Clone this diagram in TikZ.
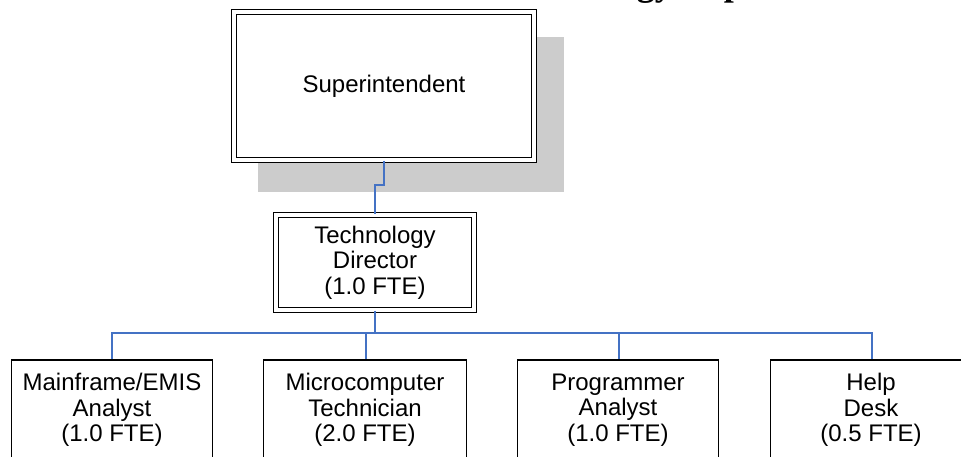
\documentclass[tikz,border=0pt]{standalone}
\usepackage{fontspec}
\setmainfont{Liberation Sans}
\newfontfamily\titlefont{Liberation Serif}
\definecolor{linkblue}{HTML}{4472C4}
\definecolor{shadowgray}{HTML}{CCCCCC}
\begin{document}
\begin{tikzpicture}[x=1pt,y=-1pt,
  txt/.style={font=\fontsize{24}{25.5}\selectfont, align=center, inner sep=0pt},
  dblbox/.style={txt, draw=black, fill=white, double=white, line width=1.8pt, double distance=3.3pt},
  leafbox/.style={txt, draw=black, fill=white, line width=1.7pt, minimum width=201pt, minimum height=100pt},
  link/.style={draw=linkblue, line width=1.6pt}]
\useasboundingbox (0,0) rectangle (961,457);
\clip (0,0) rectangle (961,457);
% title (mostly cut off at the top)
\node[anchor=base west, inner sep=0pt, font=\titlefont\bfseries\fontsize{36}{36}\selectfont] (title) at (498,-4.5) {Technology Department};
% shadow
\fill[shadowgray] (258,37) rectangle (564,192);
% boxes
\node[dblbox, minimum width=300pt, minimum height=148pt] (sup) at (384,86) {Superintendent};
\node[dblbox, minimum width=198pt, minimum height=95pt] (tech) at (375,262.5) {Technology\\Director\\(1.0 FTE)};
\node[leafbox] (c1) at (112,410) {Mainframe/EMIS\\Analyst\\(1.0 FTE)};
\node[leafbox, minimum width=203pt] (c2) at (365,410) {Microcomputer\\Technician\\(2.0 FTE)};
\node[leafbox] (c3) at (618,410) {Programmer\\Analyst\\(1.0 FTE)};
\node[leafbox] (c4) at (871,410) {Help\\Desk\\(0.5 FTE)};
% connectors
\coordinate (bus) at (0,333);
\coordinate (jog) at (0,185);
\draw[link] (sup.south) -- (sup.south |- jog) -| (tech.north);
\draw[link] (tech.south) -- (tech.south |- bus) -| (c1.north);
\draw[link] (tech.south |- bus) -| ([xshift=1pt]c2.north);
\draw[link] (tech.south |- bus) -| ([xshift=1pt]c3.north);
\draw[link] (tech.south |- bus) -| ([xshift=1pt]c4.north);
\end{tikzpicture}
\end{document}
